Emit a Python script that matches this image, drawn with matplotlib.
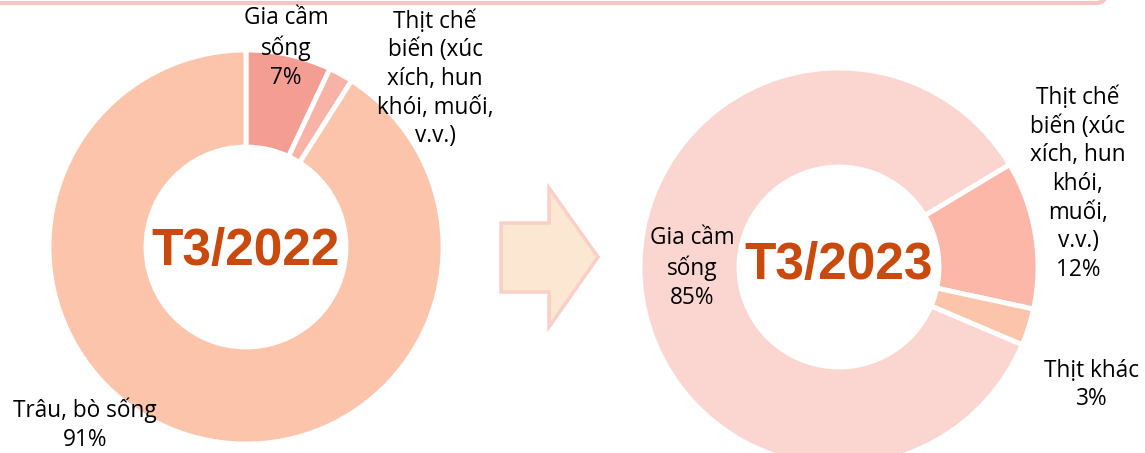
import matplotlib
matplotlib.use("Agg")
import matplotlib.pyplot as plt
from matplotlib.patches import Polygon, FancyBboxPatch

# ---- data ----
cats_2022 = ["Gia cầm\nsống", "Thịt chế\nbiến (xúc\nxích, hun\nkhói, muối,\nv.v.)", "Trâu, bò sống"]
vals_2022 = [7, 2, 91]
show_pct_2022 = [True, False, True]
cats_2023 = ["Thịt chế\nbiến (xúc\nxích, hun\nkhói,\nmuối,\nv.v.)", "Thịt khác", "Gia cầm\nsống"]
vals_2023 = [12, 3, 85]
show_pct_2023 = [True, True, True]
titles = ["T3/2022", "T3/2023"]

colors_2022 = ["#F39D93", "#F8B2A6", "#FBC4AB"]
colors_2023 = ["#FDB7A9", "#FBC4AB", "#FBD6D0"]

W, H = 1145, 453
fig = plt.figure(figsize=(W / 100, H / 100), dpi=100)
ax = fig.add_axes([0, 0, 1, 1])

def Y(y):
    return H - y

R1 = 197
ax.pie(vals_2022, colors=colors_2022, startangle=90, counterclock=False,
       center=(246, Y(247)), radius=R1,
       wedgeprops=dict(width=97, edgecolor="white", linewidth=3.5), frame=True)
R2 = 199
ax.pie(vals_2023, colors=colors_2023, startangle=31, counterclock=False,
       center=(839, Y(267)), radius=R2,
       wedgeprops=dict(width=99, edgecolor="white", linewidth=3.5), frame=True)

lab_font = dict(fontsize=16.3, family="Open Sans", color="black",
                ha="center", va="center", linespacing=1.26)

def lab(cat, v, show):
    return f"{cat}\n{v}%" if show else cat

pos_2022 = [(286, 48), (435, 79), (85, 425)]
for c, v, s, p in zip(cats_2022, vals_2022, show_pct_2022, pos_2022):
    ax.text(p[0], Y(p[1]), lab(c, v, s), **lab_font)

pos_2023 = [(1078, 184), (1092, 385), (692, 268)]
for c, v, s, p in zip(cats_2023, vals_2023, show_pct_2023, pos_2023):
    ax.text(p[0], Y(p[1]), lab(c, v, s), **lab_font)

title_font = dict(fontsize=37, family="Liberation Sans", fontweight="bold",
                  color="#C94A0C", ha="center", va="center")
ax.text(246, Y(252), titles[0], **title_font)
ax.text(839, Y(265), titles[1], **title_font)

# arrow
arrow = Polygon([(501, Y(223)), (549, Y(223)), (549, Y(188)), (598, Y(257)),
                 (549, Y(327)), (549, Y(292)), (501, Y(292))], closed=True,
                facecolor="#FCE7D3", edgecolor="#F9CFC6", linewidth=2.5)
ax.add_patch(arrow)

# top frame
frame = FancyBboxPatch((-40, Y(3)), 1146, 60, boxstyle="round,pad=0,rounding_size=10",
                       facecolor="none", edgecolor="#F7C3C3", linewidth=3)
ax.add_patch(frame)

ax.set_xlim(0, W)
ax.set_ylim(0, H)
ax.set_aspect("auto")
ax.axis("off")

fig.savefig("out.png", dpi=100)
